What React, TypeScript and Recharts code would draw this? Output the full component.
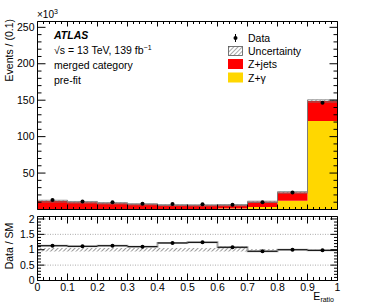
import React from "react";
import {
  ComposedChart,
  Area,
  Line,
  Scatter,
  XAxis,
  YAxis,
  ErrorBar,
  ReferenceLine,
} from "recharts";

// E_ratio bins (10 bins of width 0.1)
const binEdges = [0, 0.1, 0.2, 0.3, 0.4, 0.5, 0.6, 0.7, 0.8, 0.9, 1.0];
const binCenters = [0.05, 0.15, 0.25, 0.35, 0.45, 0.55, 0.65, 0.75, 0.85, 0.95];

// events in units of 10^3
const zGamma = [0.7, 0.6, 0.6, 0.5, 0.5, 0.5, 1.4, 3.5, 12.1, 121.5];
const zJets = [10.8, 9.4, 8.0, 6.7, 5.5, 5.3, 4.6, 7.0, 11.4, 27.5];
const mcUnc = [1.2, 1.0, 0.9, 0.8, 0.7, 0.7, 0.8, 0.9, 1.0, 1.5];
const dataEvents = [13.2, 11.1, 9.8, 8.0, 7.4, 7.2, 6.5, 10.0, 23.5, 146.5];
const dataErr = [0.12, 0.11, 0.1, 0.09, 0.09, 0.08, 0.08, 0.1, 0.15, 0.4];

// ratio panel
const ratioValues = [1.13, 1.11, 1.13, 1.1, 1.22, 1.24, 1.08, 0.95, 1.0, 0.98];
const ratioErr = [0.012, 0.012, 0.013, 0.014, 0.016, 0.016, 0.016, 0.012, 0.008, 0.004];
const ratioBandLow = [0.94, 0.94, 0.94, 0.94, 0.94, 0.94, 0.94, 0.94, 0.99, 0.99];
const ratioBandHigh = [1.06, 1.06, 1.06, 1.06, 1.06, 1.06, 1.12, 1.02, 1.01, 1.01];

// ticks
const xMajorTicks = [0, 0.1, 0.2, 0.3, 0.4, 0.5, 0.6, 0.7, 0.8, 0.9, 1];
const xTickLabels = ["0", "0.1", "0.2", "0.3", "0.4", "0.5", "0.6", "0.7", "0.8", "0.9", "1"];
const mainYMajorTicks = [50, 100, 150, 200, 250];
const mainYTickLabels = ["50", "100", "150", "200", "250"];
const ratioYMajorTicks = [0, 0.5, 1, 1.5, 2];
const ratioYTickLabels = ["0", "0.5", "1", "1.5", "2"];

const xMinorTicks = Array.from({ length: 51 }, (_, i) => Math.round(i * 2) / 100);
const mainYMinorTicks = Array.from({ length: 25 }, (_, i) => (i + 1) * 10);
const ratioYMinorTicks = Array.from({ length: 21 }, (_, i) => i / 10);

const FONT = "'Liberation Sans', Arial, Helvetica, sans-serif";

const last = (i: number) => Math.min(i, binCenters.length - 1);

const stackRows = binEdges.map((x, i) => {
  const k = last(i);
  const total = zGamma[k] + zJets[k];
  return { x, zg: zGamma[k], zj: zJets[k], band: [total - mcUnc[k], total + mcUnc[k]] };
});

const dataPoints = binCenters.map((x, i) => ({ x, y: dataEvents[i], ey: dataErr[i] }));

const ratioRows = binEdges.map((x, i) => {
  const k = last(i);
  return { x, band: [ratioBandLow[k], ratioBandHigh[k]], r: ratioValues[k] };
});

const ratioPoints = binCenters.map((x, i) => ({ x, y: ratioValues[i], ex: 0.05, ey: ratioErr[i] }));

const near = (a: number, b: number) => Math.abs(a - b) < 1e-6;

function insideTick(
  side: "top" | "bottom" | "left" | "right",
  majors: number[],
  majorLen: number,
  minorLen: number,
  labels?: string[]
) {
  return (props: any) => {
    const { x, y, payload } = props;
    const idx = majors.findIndex((m) => near(m, payload.value));
    const len = idx >= 0 ? majorLen : minorLen;
    const dx = side === "left" ? len : side === "right" ? -len : 0;
    const dy = side === "bottom" ? -len : side === "top" ? len : 0;
    const label = labels && idx >= 0 ? labels[idx] : null;
    return (
      <g>
        <line x1={x} y1={y} x2={x + dx} y2={y + dy} stroke="#000" strokeWidth={1} />
        {label !== null && side === "left" && (
          <text x={x - 3} y={y} dy={3.6} textAnchor="end" fontSize={10.5} fontFamily={FONT} fill="#000">
            {label}
          </text>
        )}
        {label !== null && side === "bottom" && (
          <text x={x} y={y + 10} textAnchor="middle" fontSize={10.5} fontFamily={FONT} fill="#000">
            {label}
          </text>
        )}
      </g>
    );
  };
}

const dot = (p: any) => <circle cx={p.cx} cy={p.cy} r={2} fill="#000" />;

// every axis is 1px thick so the plot box is set by the margins
const axisCommon = {
  allowDataOverflow: true,
  interval: 0 as const,
  tickSize: 0,
  tickMargin: 0,
  axisLine: { stroke: "#000" },
  tickLine: false,
};

function MainPanel() {
  return (
    <ComposedChart
      width={374}
      height={307}
      data={stackRows}
      margin={{ top: 20.5, right: 35.5, bottom: 96.5, left: 36.5 }}
    >
      <defs>
        <pattern id="hatchMain" patternUnits="userSpaceOnUse" width="3" height="3" patternTransform="rotate(45)">
          <line x1="0" y1="0" x2="0" y2="3" stroke="#555" strokeWidth="1" />
        </pattern>
      </defs>
      <Area type="stepAfter" dataKey="zg" stackId="mc" stroke="none" fill="#FFD700" fillOpacity={1} isAnimationActive={false} />
      <Area type="stepAfter" dataKey="zj" stackId="mc" stroke="none" fill="#FF0000" fillOpacity={1} isAnimationActive={false} />
      <Area type="stepAfter" dataKey="band" stroke="#777" strokeWidth={0.8} fill="url(#hatchMain)" fillOpacity={1} isAnimationActive={false} />
      <Scatter data={dataPoints} dataKey="y" shape={dot} isAnimationActive={false}>
        <ErrorBar dataKey="ey" direction="y" width={0} stroke="#000" strokeWidth={1} />
      </Scatter>
      <XAxis
        {...axisCommon}
        dataKey="x"
        type="number"
        domain={[0, 1]}
        ticks={xMinorTicks}
        height={1}
        tick={insideTick("bottom", xMajorTicks, 5, 2.5)}
      />
      <XAxis
        {...axisCommon}
        xAxisId="top"
        orientation="top"
        dataKey="x"
        type="number"
        domain={[0, 1]}
        ticks={xMinorTicks}
        height={1}
        tick={insideTick("top", xMajorTicks, 5, 2.5)}
      />
      <YAxis
        {...axisCommon}
        type="number"
        domain={[0, 258]}
        ticks={mainYMinorTicks}
        width={1}
        tick={insideTick("left", mainYMajorTicks, 8, 4, mainYTickLabels)}
      />
      <YAxis
        {...axisCommon}
        yAxisId="right"
        orientation="right"
        type="number"
        domain={[0, 258]}
        ticks={mainYMinorTicks}
        width={1}
        tick={insideTick("right", mainYMajorTicks, 8, 4)}
      />
    </ComposedChart>
  );
}

function RatioPanel() {
  return (
    <ComposedChart
      width={374}
      height={307}
      data={ratioRows}
      margin={{ top: 215.5, right: 35.5, bottom: 25.5, left: 36.5 }}
    >
      <defs>
        <pattern id="hatchRatio" patternUnits="userSpaceOnUse" width="3" height="3" patternTransform="rotate(45)">
          <line x1="0" y1="0" x2="0" y2="3" stroke="#333" strokeWidth="1" />
        </pattern>
      </defs>
      <ReferenceLine y={0.5} stroke="#aaa" strokeDasharray="1 1.5" />
      <ReferenceLine y={1.5} stroke="#aaa" strokeDasharray="1 1.5" />
      <ReferenceLine y={2} stroke="#aaa" strokeDasharray="1 1.5" />
      <Area type="stepAfter" dataKey="band" stroke="none" fill="url(#hatchRatio)" fillOpacity={1} isAnimationActive={false} />
      <Line type="stepAfter" dataKey="r" stroke="#aaa" strokeWidth={2} dot={false} isAnimationActive={false} />
      <Scatter data={ratioPoints} dataKey="y" shape={dot} isAnimationActive={false}>
        <ErrorBar dataKey="ex" direction="x" width={0} stroke="#000" strokeWidth={1} />
        <ErrorBar dataKey="ey" direction="y" width={0} stroke="#000" strokeWidth={1} />
      </Scatter>
      <XAxis
        {...axisCommon}
        dataKey="x"
        type="number"
        domain={[0, 1]}
        ticks={xMinorTicks}
        height={1}
        tick={insideTick("bottom", xMajorTicks, 7, 3.5, xTickLabels)}
      />
      <XAxis
        {...axisCommon}
        xAxisId="top"
        orientation="top"
        dataKey="x"
        type="number"
        domain={[0, 1]}
        ticks={xMinorTicks}
        height={1}
        tick={insideTick("top", xMajorTicks, 7, 3.5)}
      />
      <YAxis
        {...axisCommon}
        type="number"
        domain={[0, 2.08]}
        ticks={ratioYMinorTicks}
        width={1}
        tick={insideTick("left", ratioYMajorTicks, 7, 3.5, ratioYTickLabels)}
      />
      <YAxis
        {...axisCommon}
        yAxisId="right"
        orientation="right"
        type="number"
        domain={[0, 2.08]}
        ticks={ratioYMinorTicks}
        width={1}
        tick={insideTick("right", ratioYMajorTicks, 7, 3.5)}
      />
    </ComposedChart>
  );
}

function Annotations() {
  const t = { fontFamily: FONT, fontSize: 10.5, fill: "#000" };
  return (
    <svg width={374} height={307} style={{ position: "absolute", left: 0, top: 0, pointerEvents: "none" }}>
      <defs>
        <pattern id="hatchLeg" patternUnits="userSpaceOnUse" width="3" height="3" patternTransform="rotate(45)">
          <line x1="0" y1="0" x2="0" y2="3" stroke="#555" strokeWidth="1" />
        </pattern>
      </defs>
      <text x={37} y={18} {...t} fontSize={10}>
        ×10<tspan fontSize={7} dy={-4}>3</tspan>
      </text>
      <text transform="translate(13,19) rotate(-90)" textAnchor="end" {...t}>
        Events / (0.1)
      </text>
      <text transform="translate(13,246) rotate(-90)" textAnchor="middle" {...t}>
        Data / SM
      </text>
      <text x={334} y={300} textAnchor="end" {...t}>
        E<tspan fontSize={7} dy={2}>ratio</tspan>
      </text>

      <text x={54} y={39} {...t} fontWeight="bold" fontStyle="italic">ATLAS</text>
      <text x={54} y={54} {...t}>
        √s = 13 TeV, 139 fb<tspan fontSize={7} dy={-4}>−1</tspan>
      </text>
      <text x={54} y={69} {...t}>merged category</text>
      <text x={54} y={84} {...t}>pre-fit</text>

      <line x1={235.5} y1={34} x2={235.5} y2={42} stroke="#000" strokeWidth={1} />
      <circle cx={235.5} cy={38} r={2} fill="#000" />
      <text x={248} y={41.5} {...t}>Data</text>
      <rect x={228.5} y={46.5} width={14} height={9} fill="url(#hatchLeg)" stroke="#555" strokeWidth={0.8} />
      <text x={248} y={55} {...t}>Uncertainty</text>
      <rect x={228} y={59} width={15} height={10} fill="#FF0000" />
      <text x={248} y={68} {...t}>Z+jets</text>
      <rect x={228} y={72.5} width={15} height={10} fill="#FFD700" />
      <text x={248} y={81.5} {...t}>Z+γ</text>
    </svg>
  );
}

export default function App() {
  return (
    <div style={{ position: "absolute", left: 0, top: 0, width: 374, height: 307, background: "#fff" }}>
      <div style={{ position: "absolute", left: 0, top: 0 }}>
        <MainPanel />
      </div>
      <div style={{ position: "absolute", left: 0, top: 0 }}>
        <RatioPanel />
      </div>
      <Annotations />
    </div>
  );
}
